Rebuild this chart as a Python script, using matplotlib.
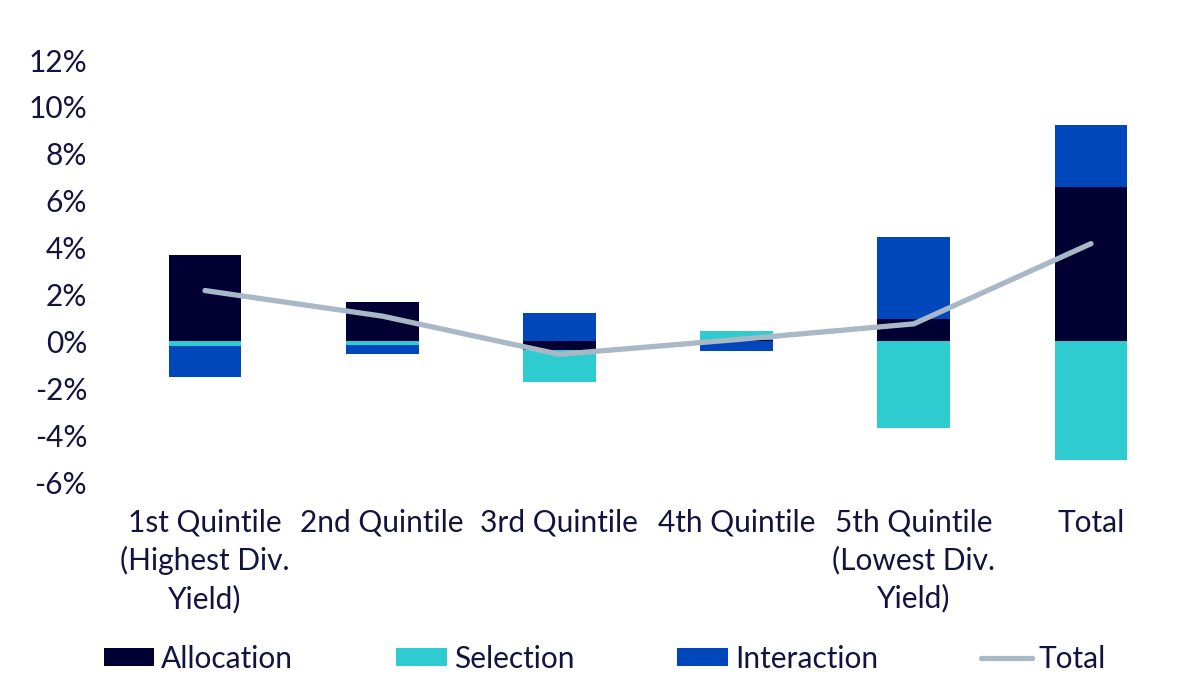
import matplotlib
matplotlib.use("Agg")
import matplotlib.pyplot as plt
import numpy as np
from matplotlib.ticker import FuncFormatter

categories = ["1st Quintile\n(Highest Div.\nYield)", "2nd Quintile", "3rd Quintile",
              "4th Quintile", "5th Quintile\n(Lowest Div.\nYield)", "Total"]
allocation = [3.70, 1.70, -0.35, 0.05, 0.95, 6.60]
selection = [-0.20, -0.15, -1.40, 0.40, -3.70, -5.05]
interaction = [-1.30, -0.40, 1.22, -0.40, 3.50, 2.65]
total = [2.17, 1.08, -0.55, 0.08, 0.75, 4.17]
yticks = [-6, -4, -2, 0, 2, 4, 6, 8, 10, 12]

c_alloc = "#020033"
c_sel = "#2ecbd1"
c_int = "#0047bb"
c_tot = "#a9b8c6"
txt = "#13133f"

plt.rcParams['font.family'] = ['Lato', 'DejaVu Sans']
fs = 21.5

fig = plt.figure(figsize=(12, 6.82), dpi=100)
ax = fig.add_axes([0.097, 0.293, 0.886, 0.619])

x = np.arange(len(categories))
width = 0.41
pos_base = np.zeros(len(x))
neg_base = np.zeros(len(x))
handles = []
for vals, col, lab in [(allocation, c_alloc, "Allocation"),
                       (selection, c_sel, "Selection"),
                       (interaction, c_int, "Interaction")]:
    v = np.array(vals)
    bottoms = np.where(v >= 0, pos_base, neg_base)
    h = ax.bar(x, v, width, bottom=bottoms, color=col, label=lab, zorder=2)
    handles.append(h)
    pos_base = pos_base + np.where(v >= 0, v, 0)
    neg_base = neg_base + np.where(v < 0, v, 0)

ln, = ax.plot(x, total, color=c_tot, lw=3.8, solid_capstyle='round',
              solid_joinstyle='round', label="Total", zorder=3)
handles.append(ln)

ax.set_xlim(-0.5, len(x) - 0.5)
ax.set_ylim(-6, 12)
ax.set_yticks(yticks)
ax.yaxis.set_major_formatter(FuncFormatter(lambda v, p: f"{v:.0f}%"))
ax.set_xticks(x)
ax.set_xticklabels(categories, linespacing=1.39)
for s in ax.spines.values():
    s.set_visible(False)
ax.tick_params(axis='both', length=0, labelsize=fs, colors=txt)
ax.tick_params(axis='y', pad=21)
ax.tick_params(axis='x', pad=19)

leg = fig.legend(handles=handles, labels=["Allocation", "Selection", "Interaction", "Total"],
                 loc='center', bbox_to_anchor=(0.504, 0.034), ncol=4, frameon=False,
                 fontsize=fs, handlelength=1.7, handleheight=0.55, handletextpad=0.23,
                 columnspacing=3.45, labelcolor=txt)

fig.savefig("out.png", dpi=100, facecolor="white")
